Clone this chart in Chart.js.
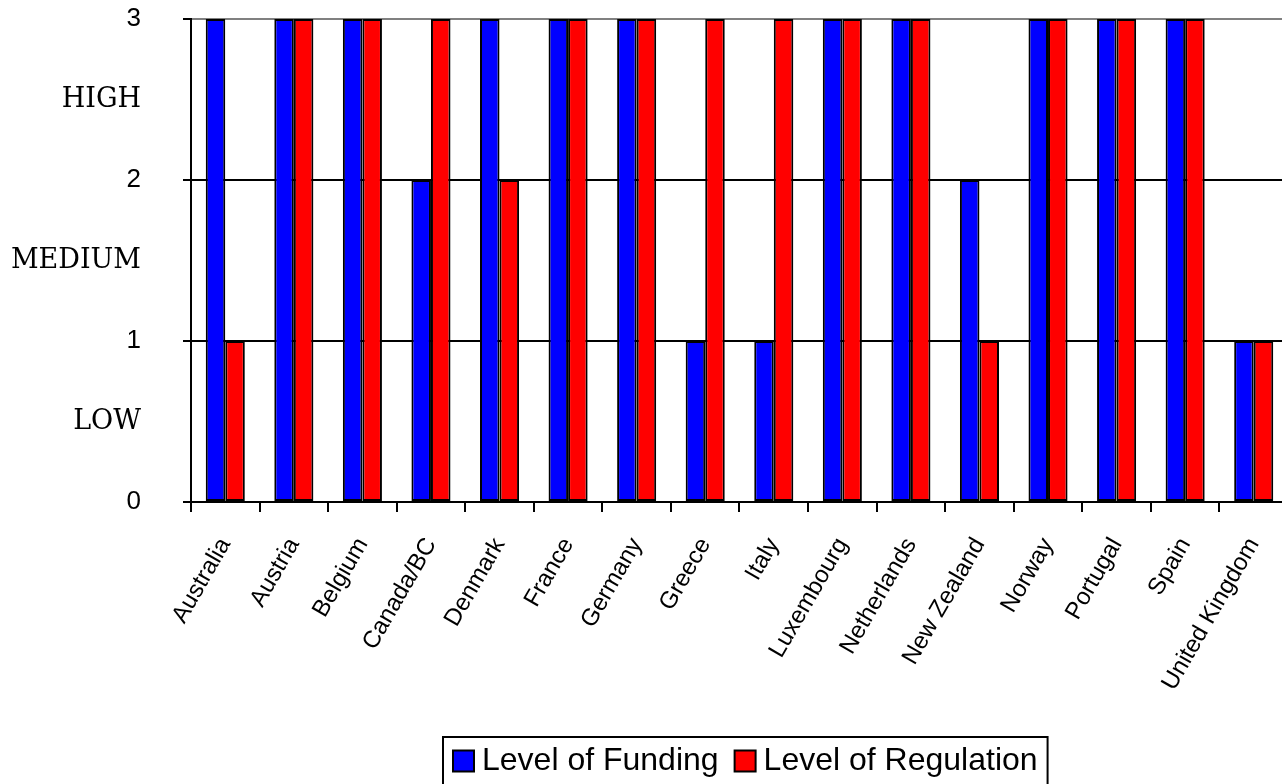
<!DOCTYPE html>
<html>
<head>
<meta charset="utf-8">
<script src="https://cdn.jsdelivr.net/npm/chart.js@4.4.1/dist/chart.umd.min.js"></script>
<style>
  html, body { margin: 0; padding: 0; background: #fff; overflow: hidden; }
  #wrap { width: 1282px; height: 784px; overflow: hidden; }
</style>
</head>
<body>
<div id="wrap"><canvas id="chart" width="1300" height="784"></canvas></div>
<script>
const countries = [
  "Australia", "Austria", "Belgium", "Canada/BC", "Denmark", "France", "Germany", "Greece",
  "Italy", "Luxembourg", "Netherlands", "New Zealand", "Norway", "Portugal", "Spain", "United Kingdom"
];
const funding    = [3, 3, 3, 2, 3, 3, 3, 1, 1, 3, 3, 2, 3, 3, 3, 1];
const regulation = [1, 3, 3, 3, 2, 3, 3, 3, 3, 3, 3, 1, 3, 3, 3, 1];
const levelLabels = { 0.5: "LOW", 1.5: "MEDIUM", 2.5: "HIGH" };

const SANS = "'Liberation Sans', Arial, sans-serif";
const SERIF = "'DejaVu Serif', serif";

const isWhole = v => Math.abs(v - Math.round(v)) < 1e-6;
const tickValue = ctx => (ctx && ctx.tick) ? ctx.tick.value : 0;

// legend drawn in a framed box below the axis, like the old spreadsheet chart
const legendBox = {
  id: "legendBox",
  afterDraw(chart, args, opts) {
    const ctx = chart.ctx;
    const mid = opts.top + opts.midOffset;
    let x = opts.left + opts.padX;
    ctx.save();
    ctx.font = `${opts.fontSize}px ${SANS}`;
    ctx.textBaseline = "middle";
    ctx.textAlign = "left";
    chart.data.datasets.forEach((ds, i) => {
      if (i) x += opts.itemGap;
      ctx.fillStyle = ds.backgroundColor;
      ctx.fillRect(x, mid - opts.box / 2, opts.box, opts.box);
      ctx.strokeStyle = "#000";
      ctx.lineWidth = 2;
      ctx.strokeRect(x, mid - opts.box / 2, opts.box, opts.box);
      x += opts.box + opts.textGap;
      ctx.fillStyle = "#000";
      ctx.fillText(ds.label, x, mid);
      x += ctx.measureText(ds.label).width;
    });
    ctx.lineWidth = 2;
    ctx.strokeRect(opts.left, opts.top, x + opts.padX - opts.left, 80);
    ctx.restore();
  }
};

new Chart(document.getElementById("chart"), {
  type: "bar",
  data: {
    labels: countries,
    datasets: [
      {
        label: "Level of Funding",
        data: funding,
        backgroundColor: "#0000ff",
        borderColor: "#000",
        borderWidth: 2,
        borderSkipped: false
      },
      {
        label: "Level of Regulation",
        data: regulation,
        backgroundColor: "#ff0000",
        borderColor: "#000",
        borderWidth: 2,
        borderSkipped: false
      }
    ]
  },
  options: {
    responsive: false,
    animation: false,
    layout: { padding: { left: 0, right: 11, top: 19, bottom: 0 } },
    datasets: {
      bar: { barPercentage: 1, categoryPercentage: 0.57 }
    },
    plugins: {
      legend: { display: false },
      tooltip: { enabled: false },
      legendBox: {
        left: 443, top: 737, padX: 10, midOffset: 24,
        box: 21, textGap: 8, itemGap: 16, fontSize: 32
      }
    },
    scales: {
      x: {
        offset: true,
        afterFit: scale => { scale.height = 282; },
        grid: {
          offset: true,
          drawOnChartArea: false,
          color: "#000",
          lineWidth: 2,
          tickLength: 10
        },
        border: { color: "#000", width: 2 },
        ticks: {
          color: "#000",
          font: { family: SANS, size: 24 },
          minRotation: 60,
          maxRotation: 60,
          autoSkip: false,
          padding: 21
        }
      },
      y: {
        min: 0,
        max: 3,
        afterFit: scale => {
          scale.width = 191;
          scale.paddingTop = 0;
          scale.paddingBottom = 0;
        },
        grid: {
          color: ctx => {
            const v = tickValue(ctx);
            if (!isWhole(v)) return "rgba(0,0,0,0)";
            return v === 3 ? "#808080" : "#000";
          },
          tickColor: ctx => isWhole(tickValue(ctx)) ? "#000" : "rgba(0,0,0,0)",
          lineWidth: 2,
          tickLength: 8
        },
        border: { color: "#000", width: 2 },
        ticks: {
          stepSize: 0.5,
          color: "#000",
          padding: 42,
          font: ctx => isWhole(tickValue(ctx))
            ? { family: SANS, size: 26 }
            : { family: SERIF, size: 27 },
          callback: value => isWhole(value) ? String(value) : levelLabels[value]
        }
      }
    }
  },
  plugins: [legendBox]
});
</script>
</body>
</html>
